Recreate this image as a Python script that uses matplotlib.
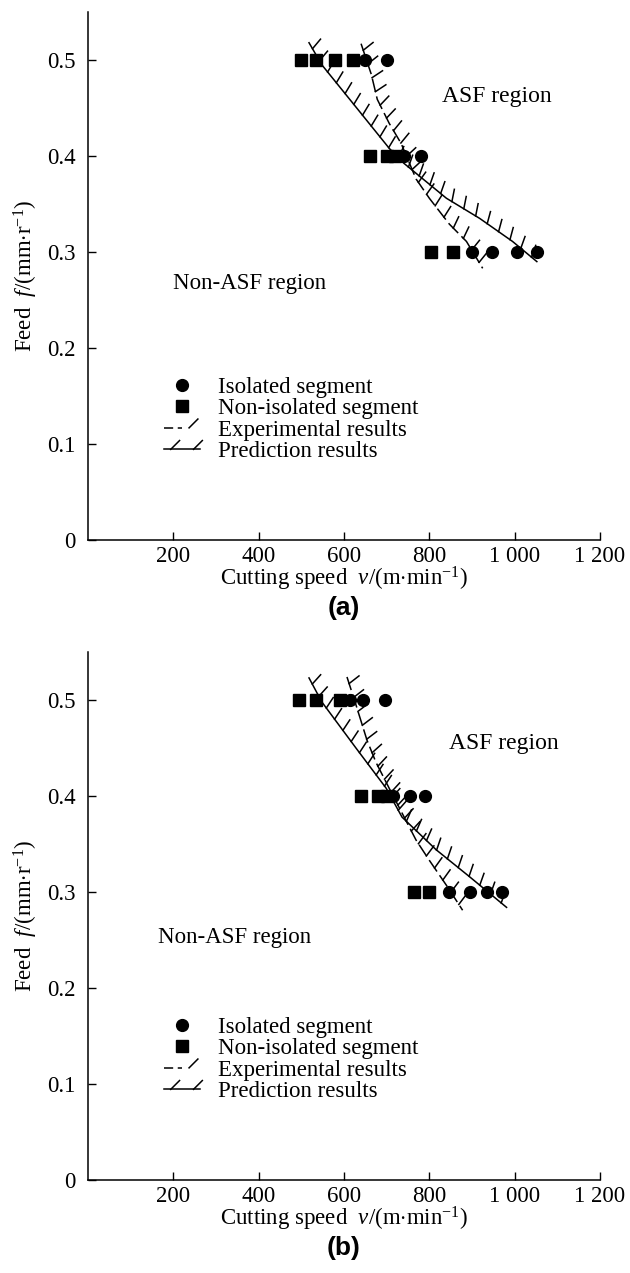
import matplotlib
matplotlib.use("Agg")
import matplotlib.pyplot as plt
from matplotlib import patheffects
from matplotlib.lines import Line2D
from matplotlib.legend_handler import HandlerTuple

plt.rcParams['font.family'] = 'Liberation Serif'
plt.rcParams['mathtext.fontset'] = 'custom'
plt.rcParams['mathtext.rm'] = 'Liberation Serif'
plt.rcParams['mathtext.it'] = 'Liberation Serif:italic'

# panel (a) measured points
iso_a_v = [650, 700, 740, 780, 900, 948, 1005, 1052]
iso_a_f = [0.5, 0.5, 0.4, 0.4, 0.3, 0.3, 0.3, 0.3]
non_a_v = [500, 535, 578, 620, 660, 700, 720, 805, 855]
non_a_f = [0.5, 0.5, 0.5, 0.5, 0.4, 0.4, 0.4, 0.3, 0.3]
# boundaries (a)
pred_a_v = [518, 548, 628, 706, 736, 840, 918, 995, 1052]
pred_a_f = [0.518, 0.495, 0.451, 0.408, 0.394, 0.356, 0.335, 0.311, 0.290]
exp_a_v = [640, 664, 678, 706, 734, 769, 800, 847, 887, 925]
exp_a_f = [0.517, 0.485, 0.459, 0.434, 0.413, 0.376, 0.356, 0.329, 0.311, 0.283]

# panel (b) measured points
iso_b_v = [615, 645, 695, 715, 755, 790, 845, 895, 935, 970]
iso_b_f = [0.5, 0.5, 0.5, 0.4, 0.4, 0.4, 0.3, 0.3, 0.3, 0.3]
non_b_v = [495, 535, 590, 640, 680, 700, 765, 800]
non_b_f = [0.5, 0.5, 0.5, 0.4, 0.4, 0.4, 0.3, 0.3]
# boundaries (b)
pred_b_v = [518, 548, 628, 699, 736, 816, 894, 981]
pred_b_f = [0.523, 0.498, 0.450, 0.408, 0.378, 0.344, 0.316, 0.284]
exp_b_v = [607, 628, 654, 675, 706, 769, 800, 840, 878]
exp_b_f = [0.524, 0.495, 0.458, 0.435, 0.408, 0.354, 0.333, 0.307, 0.281]

xticks = [200, 400, 600, 800, 1000, 1200]
xlabels = ['200', '400', '600', '800', '1 000', '1 200']
yticks = [0, 0.1, 0.2, 0.3, 0.4, 0.5]
ylabels = ['0', '0.1', '0.2', '0.3', '0.4', '0.5']

FS = 16.5
ticks_curve = patheffects.TickedStroke(angle=110, spacing=10, length=0.9)
ticks_leg = patheffects.TickedStroke(angle=45, spacing=10, length=0.9)


def panel(ax, iso_v, iso_f, non_v, non_f, pv, pf, ev, ef, asf_xy, non_xy, leg_xy, tag):
    ax.plot(pv, pf, color='k', lw=1.1,
            path_effects=[patheffects.withTickedStroke(angle=110, spacing=10, length=0.9)])
    ax.plot(ev, ef, color='k', lw=1.1, dashes=(9, 3))
    ax.plot(ev, ef, color='k', lw=1.1, path_effects=[ticks_curve])
    ax.plot(iso_v, iso_f, 'o', color='k', ms=8.5, zorder=3)
    ax.plot(non_v, non_f, 's', color='k', ms=8, zorder=3)

    ax.set_xlim(0, 1200)
    ax.set_ylim(0, 0.55)
    ax.set_xticks(xticks)
    ax.set_xticklabels(xlabels)
    ax.set_yticks(yticks)
    ax.set_yticklabels(ylabels)
    ax.tick_params(direction='in', length=6, width=1, labelsize=FS, pad=4)
    ax.tick_params(axis='y', pad=9)
    for s in ['top', 'right']:
        ax.spines[s].set_visible(False)
    for s in ['left', 'bottom']:
        ax.spines[s].set_linewidth(1.1)

    ax.set_xlabel(r'Cutting speed  $\it{v}$/(m$\cdot$min$^{-1}$)', fontsize=FS, labelpad=-1)
    ax.set_ylabel(r'Feed  $\it{f}$/(mm$\cdot$r$^{-1}$)', fontsize=FS, labelpad=5)

    ax.text(asf_xy[0], asf_xy[1], 'ASF region', fontsize=FS + 0.5, va='center')
    ax.text(non_xy[0], non_xy[1], 'Non-ASF region', fontsize=FS, va='center')

    h_iso = Line2D([], [], ls='none', marker='o', color='k', ms=8.5)
    h_non = Line2D([], [], ls='none', marker='s', color='k', ms=8)
    h_exp = (Line2D([], [], color='k', lw=1.1, dashes=(6, 3)),
             Line2D([], [], color='k', lw=1.1, path_effects=[ticks_leg]))
    h_pre = Line2D([], [], color='k', lw=1.1,
                   path_effects=[patheffects.withTickedStroke(angle=45, spacing=10, length=0.9)])
    ax.legend([h_iso, h_non, h_exp, h_pre],
              ['Isolated segment', 'Non-isolated segment', 'Experimental results', 'Prediction results'],
              handler_map={tuple: HandlerTuple(ndivide=None)},
              loc='upper left', bbox_to_anchor=leg_xy, frameon=False, fontsize=FS,
              handlelength=1.6, handletextpad=0.75, labelspacing=0.02,
              borderpad=0, borderaxespad=0)

    ax.text(0.5, -0.128, tag, transform=ax.transAxes, ha='center', va='center',
            fontsize=19, fontweight='bold', family='Liberation Sans')


fig = plt.figure(figsize=(6.3, 12.73), dpi=100)
ax1 = fig.add_axes([88 / 630, 1 - 540 / 1273, 512 / 630, 528 / 1273])
ax2 = fig.add_axes([88 / 630, 1 - 1180 / 1273, 512 / 630, 528 / 1273])

panel(ax1, iso_a_v, iso_a_f, non_a_v, non_a_f, pred_a_v, pred_a_f, exp_a_v, exp_a_f,
      (830, 0.462), (200, 0.267), (0.148, 0.309), '(a)')
panel(ax2, iso_b_v, iso_b_f, non_b_v, non_b_f, pred_b_v, pred_b_f, exp_b_v, exp_b_f,
      (847, 0.455), (165, 0.253), (0.148, 0.309), '(b)')

fig.savefig('out.png', dpi=100)
